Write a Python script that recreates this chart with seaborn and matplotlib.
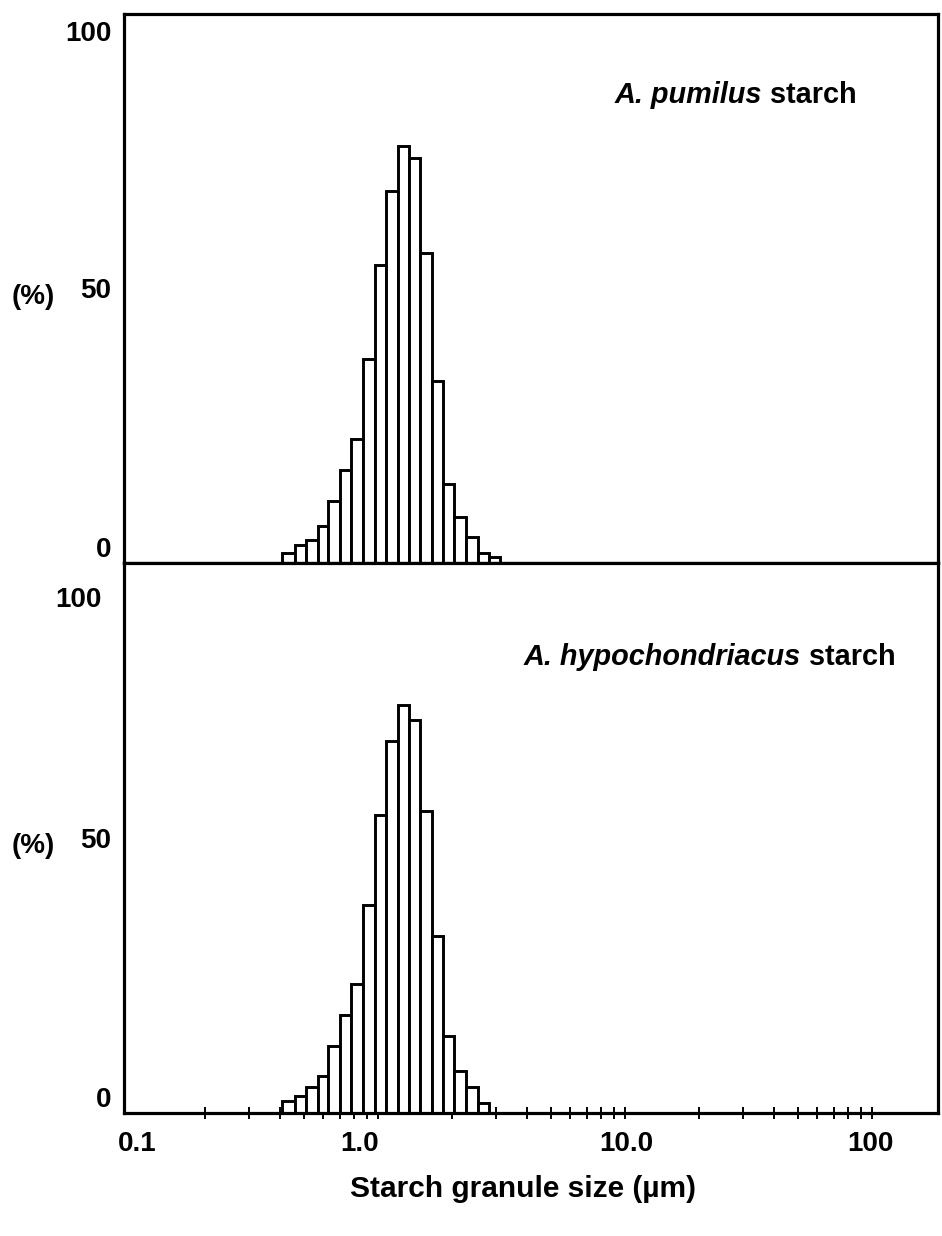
import numpy as np
import pandas as pd
import matplotlib
matplotlib.use("Agg")
import matplotlib.pyplot as plt
import matplotlib.transforms as mtransforms
from matplotlib.ticker import FixedLocator, NullFormatter, FixedFormatter
import seaborn as sns

# ---------------- data ----------------
bin_edges = [0.41, 0.46, 0.51, 0.57, 0.63, 0.70, 0.78, 0.87, 0.97, 1.08,
             1.20, 1.33, 1.48, 1.65, 1.84, 2.04, 2.27, 2.53, 2.81, 3.13]
pumilus_pct = [1.8, 3.2, 4.2, 6.7, 11.3, 17.0, 22.6, 37.2, 54.2, 67.8,
               76.0, 73.8, 56.5, 33.1, 14.3, 8.3, 4.7, 1.9, 1.1]
hypochondriacus_pct = [2.2, 3.1, 4.8, 6.8, 12.2, 17.8, 23.4, 37.9, 54.1, 67.6,
                       74.1, 71.5, 55.0, 32.1, 14.0, 7.7, 4.8, 1.8, 0.0]
species = ["A. pumilus", "A. hypochondriacus"]
y_ticks = [0, 50, 100]
y_tick_labels = ["0", "50", "100"]
x_major_ticks = [0.1, 1.0, 10.0, 100.0]
x_tick_labels = ["0.1", "1.0", "10.0", "100"]
x_label = "Starch granule size (µm)"
y_label = "(%)"

# ---------------- style ----------------
sns.set_style("white")
plt.rcParams["font.family"] = ["Liberation Sans", "DejaVu Sans"]
plt.rcParams["font.weight"] = "bold"
plt.rcParams["axes.linewidth"] = 2.3
for k in ["text.color", "axes.labelcolor", "xtick.color", "ytick.color", "axes.edgecolor"]:
    plt.rcParams[k] = "black"

W, H = 942, 1236
fig = plt.figure(figsize=(W / 100, H / 100), dpi=100)

left = 124 / W
width = (938 - 124) / W
ax_top = fig.add_axes([left, 1 - 563 / H, width, 549 / H])
ax_bot = fig.add_axes([left, 1 - 1113 / H, width, 550 / H])

edges = np.array(bin_edges)
centers = np.sqrt(edges[:-1] * edges[1:])
log_bins = [float(v) for v in np.log10(edges)]

series = [pumilus_pct, hypochondriacus_pct]
title_pos = [(0.603, 0.852), (0.491, 0.829)]
top_label_shift = [(0, -7), (-10, -24)]   # (dx, dy) px shift of the "100" label per panel

for ax, vals, name, tpos, tshift in zip([ax_top, ax_bot], series, species,
                                        title_pos, top_label_shift):
    df = pd.DataFrame({"size": centers, "pct": vals})
    sns.histplot(data=df, x="size", weights="pct", bins=log_bins, log_scale=True,
                 stat="count", element="bars", fill=True, color="white",
                 edgecolor="black", linewidth=2.1, alpha=1.0, ax=ax)
    ax.set_xlim(0.0937, 185)
    ax.set_ylim(0, 100)
    for s in ax.spines.values():
        s.set_visible(True)
        s.set_color("black")
    ax.set_yticks(y_ticks)
    ax.set_yticklabels(y_tick_labels, fontsize=20, fontweight="bold")
    ax.tick_params(axis="y", length=0, pad=9)
    labs = ax.get_yticklabels()
    labs[0].set_verticalalignment("bottom")
    labs[-1].set_verticalalignment("top")
    labs[-1].set_transform(labs[-1].get_transform() +
                           mtransforms.ScaledTranslation(tshift[0] / 100, tshift[1] / 100,
                                                         fig.dpi_scale_trans))
    ax.set_ylabel(y_label, rotation=0, fontsize=20, fontweight="bold",
                  va="center", ha="center")
    ax.yaxis.set_label_coords(-0.112, 0.485)
    ax.set_xlabel("")
    t1 = ax.text(tpos[0], tpos[1], name, transform=ax.transAxes,
                 fontsize=20.8, fontweight="bold", fontstyle="italic",
                 ha="left", va="center")
    ax.annotate(" starch", xy=(1, 0), xycoords=t1, fontsize=20.8,
                fontweight="bold", ha="left", va="bottom")

# top panel: no x ticks
ax_top.tick_params(axis="x", which="both", bottom=False, length=0, labelbottom=False)
ax_top.xaxis.set_major_formatter(NullFormatter())
ax_top.xaxis.set_minor_formatter(NullFormatter())

# bottom panel: log ticks crossing the axis line
minor = [m * d for d in [0.1, 1.0, 10.0] for m in range(2, 10)]
ax_bot.xaxis.set_major_locator(FixedLocator(x_major_ticks))
ax_bot.xaxis.set_major_formatter(FixedFormatter(x_tick_labels))
ax_bot.xaxis.set_minor_locator(FixedLocator(minor))
ax_bot.xaxis.set_minor_formatter(NullFormatter())
ax_bot.tick_params(axis="x", which="both", bottom=True, direction="inout", length=8,
                   width=1.4, color="black", pad=9, labelsize=20)
ax_bot.xaxis.get_major_ticks()[0].tick1line.set_visible(False)
label_shift_px = [6, -18, 1, -2]
for lab, dx in zip(ax_bot.get_xticklabels(), label_shift_px):
    lab.set_fontweight("bold")
    lab.set_transform(lab.get_transform() +
                      mtransforms.ScaledTranslation(dx / 100, 0, fig.dpi_scale_trans))
ax_bot.set_xlabel(x_label, fontsize=21.5, fontweight="bold")
ax_bot.xaxis.set_label_coords(0.49, -0.138)
ax_bot.xaxis.label.set_verticalalignment("center")

fig.savefig("out.png", dpi=100, facecolor="white")
